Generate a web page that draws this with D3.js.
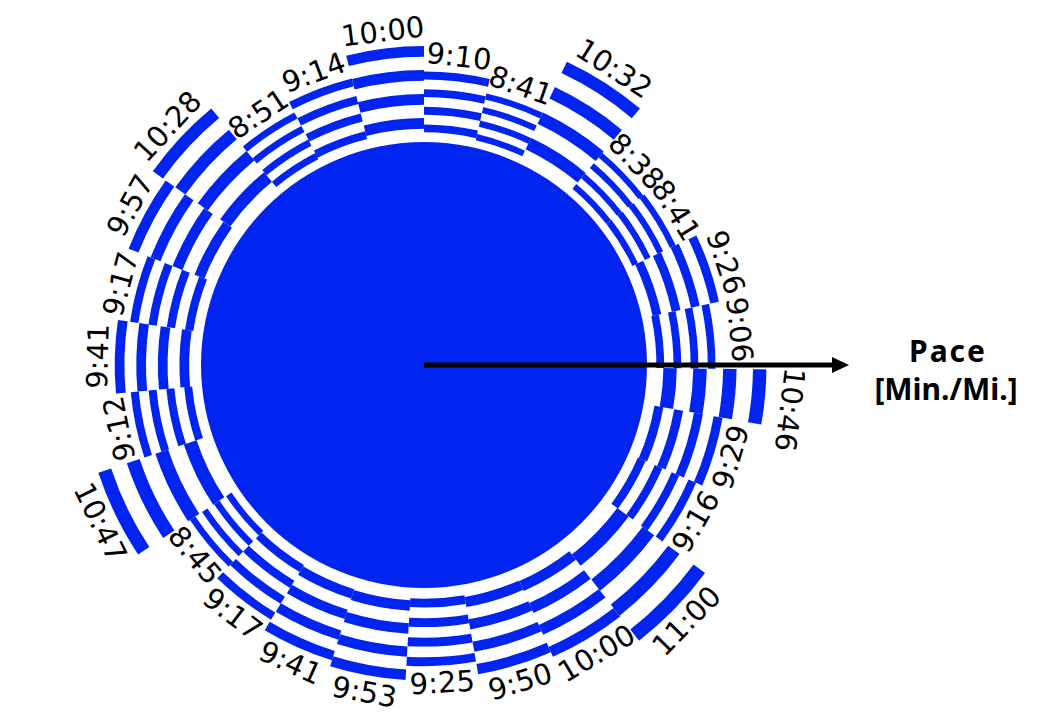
<!DOCTYPE html>
<html><head><meta charset="utf-8">
<script src="https://cdn.jsdelivr.net/npm/d3@7"></script>
<style>body{margin:0;background:#fff}svg{display:block}</style>
</head><body>
<svg id="chart" width="1042" height="724"></svg>
<script>
// ---- data ----
const laps = d3.range(1, 28);
const paceSeconds = [550, 521, 632, 518, 521, 566, 546, 646, 569, 556, 660, 600, 590, 565, 593, 581, 557, 525, 647, 552, 581, 557, 597, 628, 531, 554, 600];
const lapMiles = [1, 1, 1, 1, 1, 1, 1, 0.61, 1, 1, 1, 1, 1, 1, 1, 1, 1, 1, 1, 1, 1, 1, 1, 1, 1, 1, 1];
const axisTitle = ["Pace", "[Min./Mi.]"];

// ---- layout ----
const cx = 424, cy = 365;
const blue = "#0224F0";
const diskR = 223, ringCount = 4, blueFrac = 0.45, spreadFrac = 0.25;

const fmt = s => Math.floor(s / 60) + ":" + String(s % 60).padStart(2, "0");
const data = laps.map((m, i) => ({ lap: m, pace: paceSeconds[i], dur: paceSeconds[i] * lapMiles[i], label: fmt(paceSeconds[i]) }));
let acc = 0;
data.forEach(d => { d.t0 = acc; acc += d.dur; d.t1 = acc; });
const total = acc;

const angle = d3.scaleLinear().domain([0, total]).range([0, 2 * Math.PI]);
const rOuter = d3.scaleLinear().domain([480, 660]).range([257.8, 349.6]);

const svg = d3.select("#chart");
const g = svg.append("g").attr("transform", `translate(${cx},${cy})`);

g.append("circle").attr("r", diskR).attr("fill", blue);

const arc = d3.arc();
const rings = [];
data.forEach(d => {
  const R = rOuter(d.pace);
  const p = spreadFrac * (R - diskR);
  for (let j = 0; j < ringCount; j++) {
    rings.push({
      innerRadius: R - j * p - blueFrac * p,
      outerRadius: R - j * p,
      startAngle: angle(d.t0),
      endAngle: angle(d.t1)
    });
  }
});
g.selectAll("path.ring").data(rings).join("path")
  .attr("class", "ring").attr("d", arc).attr("fill", blue);

// labels
const lbl = g.selectAll("text.lbl").data(data).join("text")
  .attr("class", "lbl")
  .attr("text-anchor", "middle")
  .attr("dominant-baseline", "central")
  .attr("font-family", "DejaVu Sans, sans-serif")
  .attr("font-size", 29)
  .attr("fill", "#000")
  .text(d => d.label);

lbl.attr("transform", function(d) {
  let a = (angle(d.t0) + angle(d.t1)) / 2;
  let r = rOuter(d.pace) + 17;
  const half = this.getComputedTextLength() / 2;
  // keep labels clear of the pace arrow (which points at 90deg)
  const axisA = Math.PI / 2;
  if (Math.abs(a - axisA) < (half + 2) / r) {
    r += 9;
    a = a >= axisA ? axisA + (half + 3) / r : axisA - (half + 3) / r;
  }
  const deg = a * 180 / Math.PI;
  const x = r * Math.sin(a), y = -r * Math.cos(a);
  const rot = (deg > 100 && deg < 250) ? deg - 180 : deg;
  return `translate(${x},${y}) rotate(${rot})`;
});

// arrow
svg.append("line").attr("x1", cx).attr("y1", cy).attr("x2", 834).attr("y2", cy)
  .attr("stroke", "#000").attr("stroke-width", 5);
svg.append("path").attr("d", `M832,${cy - 8} L849,${cy} L832,${cy + 8} Z`).attr("fill", "#000");

svg.append("text").attr("x", 948).attr("y", 362).attr("text-anchor", "middle")
  .attr("font-family", "Noto Sans, sans-serif").attr("font-weight", "bold").attr("font-size", 30)
  .attr("letter-spacing", 2)
  .text(axisTitle[0]);
svg.append("text").attr("x", 946).attr("y", 400).attr("text-anchor", "middle")
  .attr("font-family", "Noto Sans, sans-serif").attr("font-weight", "bold").attr("font-size", 30)
  .text(axisTitle[1]);
</script>
</body></html>
